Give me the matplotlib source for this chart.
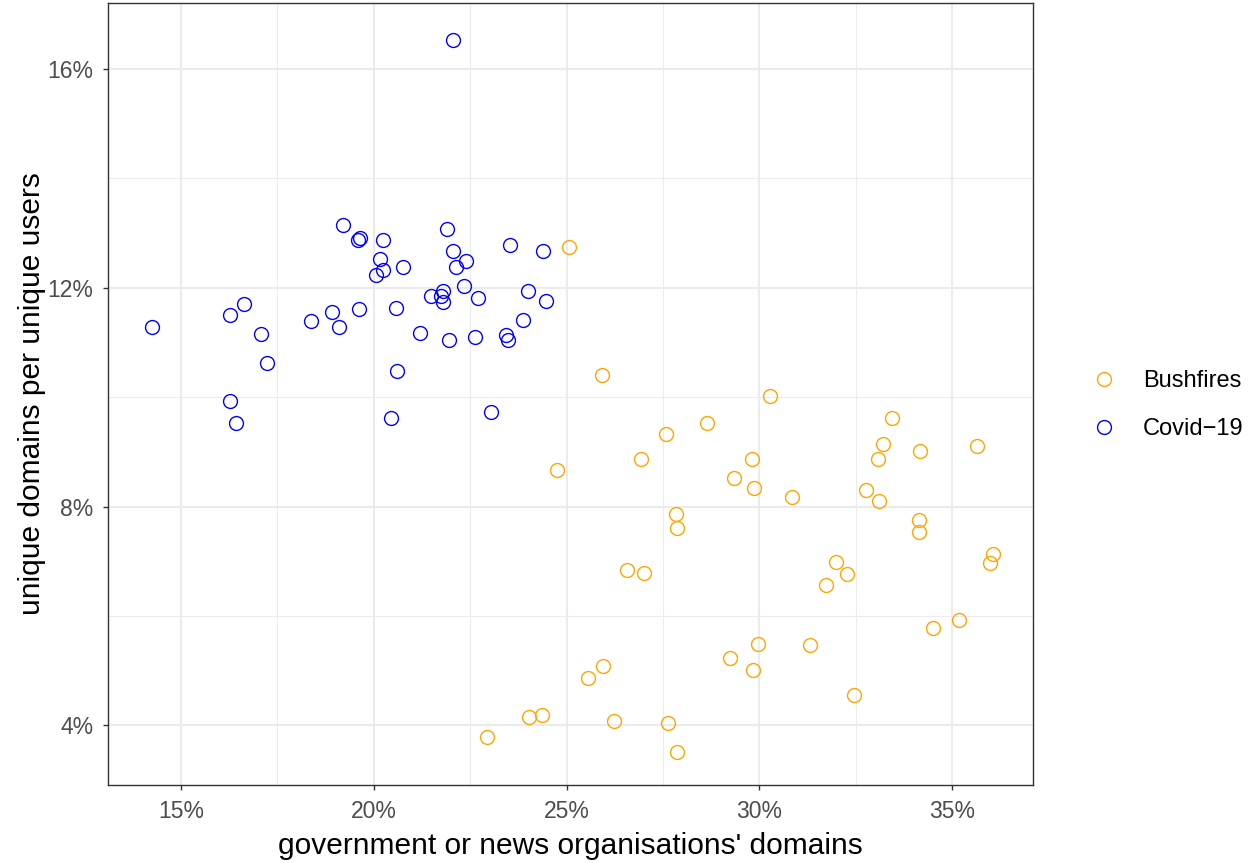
import matplotlib
matplotlib.use("Agg")
import matplotlib.pyplot as plt
from matplotlib.ticker import FixedLocator, FuncFormatter
from matplotlib.lines import Line2D

plt.rcParams['font.family'] = ['Liberation Sans', 'DejaVu Sans']

# ---- data (percent) ----
covid_x = [14.24, 16.27, 16.63, 17.08, 17.22, 16.28, 16.43, 18.37, 18.92, 19.10,
           19.21, 19.60, 19.64, 20.25, 19.62, 20.16, 20.25, 20.05, 20.77, 20.57,
           20.60, 20.44, 21.20, 21.49, 21.74, 21.80, 21.80, 21.89, 22.05, 22.13,
           22.39, 22.35, 21.95, 22.06, 22.70, 22.63, 23.04, 23.42, 23.49, 23.53,
           23.88, 23.99, 24.40, 24.46]
covid_y = [11.29, 11.50, 11.71, 11.16, 10.62, 9.92, 9.53, 11.40, 11.56, 11.28,
           13.15, 12.87, 12.91, 12.88, 11.62, 12.52, 12.32, 12.23, 12.38, 11.63,
           10.48, 9.62, 11.18, 11.84, 11.85, 11.94, 11.74, 13.08, 12.68, 12.37,
           12.48, 12.03, 11.04, 16.53, 11.81, 11.09, 9.73, 11.14, 11.04, 12.79,
           11.41, 11.94, 12.67, 11.75]

bush_x = [25.07, 25.91, 24.75, 26.93, 27.59, 28.65, 29.82, 29.34, 29.87, 27.83,
          27.86, 26.56, 27.00, 30.29, 33.45, 33.22, 33.08, 34.18, 35.66, 30.84,
          32.77, 33.10, 34.13, 34.13, 36.06, 35.99, 31.98, 32.28, 31.72, 34.50,
          35.19, 22.93, 24.03, 24.36, 25.56, 25.94, 26.22, 27.62, 27.86, 29.23,
          29.97, 29.84, 31.32, 32.46]
bush_y = [12.74, 10.40, 8.67, 8.87, 9.33, 9.53, 8.86, 8.53, 8.34, 7.87,
          7.61, 6.84, 6.79, 10.02, 9.61, 9.14, 8.87, 9.02, 9.10, 8.18,
          8.30, 8.10, 7.75, 7.53, 7.13, 6.97, 6.99, 6.76, 6.56, 5.78,
          5.92, 3.79, 4.16, 4.19, 4.87, 5.08, 4.07, 4.05, 3.51, 5.23,
          5.49, 5.01, 5.46, 4.55]

x_ticks = [15, 20, 25, 30, 35]
x_minor = [17.5, 22.5, 27.5, 32.5]
y_ticks = [4, 8, 12, 16]
y_minor = [6, 10, 14]
series_labels = ["Bushfires", "Covid\u221219"]
series_colors = ["orange", "blue"]

W, H = 1258, 863
fig = plt.figure(figsize=(W / 100, H / 100), dpi=100)
left, right, top, bottom = 108, 1033, 3, 785
ax = fig.add_axes([left / W, 1 - bottom / H, (right - left) / W, (bottom - top) / H])

ms = 10
mew = 1.0
ax.plot(bush_x, bush_y, linestyle='none', marker='o', markersize=ms,
        markerfacecolor='none', markeredgecolor=series_colors[0], markeredgewidth=mew, zorder=3)
ax.plot(covid_x, covid_y, linestyle='none', marker='o', markersize=ms,
        markerfacecolor='none', markeredgecolor=series_colors[1], markeredgewidth=mew, zorder=3)

ax.set_xlim(13.106, 37.10)
ax.set_ylim(2.909, 17.205)

ax.xaxis.set_major_locator(FixedLocator(x_ticks))
ax.xaxis.set_minor_locator(FixedLocator(x_minor))
ax.yaxis.set_major_locator(FixedLocator(y_ticks))
ax.yaxis.set_minor_locator(FixedLocator(y_minor))
pct = FuncFormatter(lambda v, p: f"{v:g}%")
ax.xaxis.set_major_formatter(pct)
ax.yaxis.set_major_formatter(pct)

ax.grid(True, which='major', color='#EBEBEB', linewidth=1.45, zorder=0)
ax.grid(True, which='minor', color='#EBEBEB', linewidth=0.75, zorder=0)
ax.set_axisbelow(True)

ax.tick_params(which='major', length=3.6, width=1.0, color='#333333',
               labelsize=16.5, labelcolor='#4D4D4D', pad=7)
ax.tick_params(which='minor', length=0)
for s in ax.spines.values():
    s.set_color('#333333')
    s.set_linewidth(1.0)

ax.set_xlabel("government or news organisations' domains", fontsize=21.5, color='black', labelpad=7)
ax.set_ylabel("unique domains per unique users", fontsize=21.5, color='black', labelpad=1)

handles = [Line2D([], [], linestyle='none', marker='o', markersize=ms,
                  markerfacecolor='none', markeredgecolor=c, markeredgewidth=mew)
           for c in series_colors]
fig.legend(handles, series_labels, loc='center left',
           bbox_to_anchor=(1092 / W, 1 - 405 / H), frameon=False,
           fontsize=17, labelspacing=1.1, handlelength=1.0, handletextpad=1.15,
           borderpad=0, borderaxespad=0)

fig.savefig("out.png", dpi=100)
